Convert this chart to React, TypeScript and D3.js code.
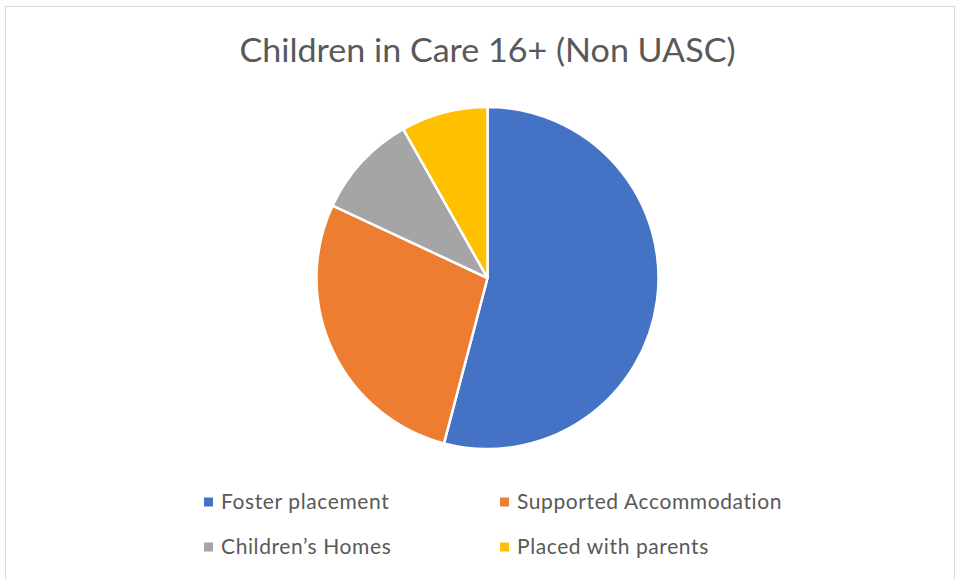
import { pie as d3_pie, arc as d3_arc } from "d3";

const categories = [
  "Foster placement",
  "Supported Accommodation",
  "Children\u2019s Homes",
  "Placed with parents",
];
const values = [66, 34, 12, 10];
const colors = ["#4472C4", "#ED7D31", "#A5A5A5", "#FFC000"];
const title = "Children in Care 16+ (Non UASC)";

const W = 956;
const H = 579;

export default function App() {
  const cx = 487.5;
  const cy = 278;
  const r = 171;

  const slices = d3_pie<number>()
    .sort(null)
    .value((d) => d)(values);

  const arc = d3_arc<any>().innerRadius(0).outerRadius(r);

  // legend: two columns, two rows
  const legendCols = [204, 500];
  const legendRows = [502, 547];

  return (
    <svg
      width={W}
      height={H}
      style={{ position: "absolute", left: 0, top: 0, background: "#fff" }}
      fontFamily="Lato, 'Open Sans', sans-serif"
    >
      <rect x={5.5} y={6.5} width={949} height={600} fill="#fff" stroke="#d9d9d9" />
      <text
        x={cx}
        y={62}
        textAnchor="middle"
        fontSize={32}
        fill="#595959"
        textLength={496}
        lengthAdjust="spacingAndGlyphs"
      >
        {title}
      </text>

      <g transform={`translate(${cx},${cy})`}>
        {slices.map((s, i) => (
          <path
            key={i}
            d={arc(s) ?? ""}
            fill={colors[i]}
            stroke="#fff"
            strokeWidth={2.5}
            strokeLinejoin="round"
          />
        ))}
      </g>

      {categories.map((c, i) => {
        const x = legendCols[i % 2];
        const y = legendRows[Math.floor(i / 2)];
        return (
          <g key={c} transform={`translate(${x},${y})`}>
            <rect x={0} y={-4.5} width={9} height={9} fill={colors[i]} />
            <text
              x={17}
              y={0}
              dy="0.35em"
              fontSize={21}
              letterSpacing={0.6}
              fill="#595959"
            >
              {c}
            </text>
          </g>
        );
      })}
    </svg>
  );
}
